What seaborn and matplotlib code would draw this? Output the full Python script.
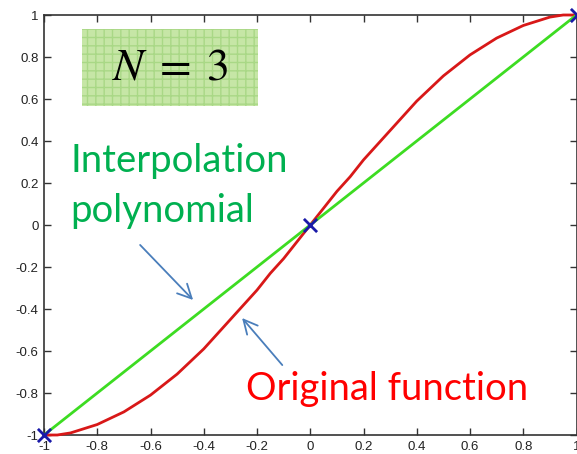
import matplotlib
matplotlib.use("Agg")
import matplotlib.pyplot as plt
import seaborn as sns
import pandas as pd
from matplotlib.patches import Rectangle

# Original function sampled on [-1, 1]
x_orig = [-1.0, -0.95, -0.9, -0.85, -0.8, -0.75, -0.7, -0.65, -0.6, -0.55, -0.5,
          -0.45, -0.4, -0.35, -0.3, -0.25, -0.2, -0.15, -0.1, -0.05, 0.0,
          0.05, 0.1, 0.15, 0.2, 0.25, 0.3, 0.35, 0.4, 0.45, 0.5,
          0.55, 0.6, 0.65, 0.7, 0.75, 0.8, 0.85, 0.9, 0.95, 1.0]
y_orig = [-1.00, -1.00, -0.99, -0.97, -0.95, -0.92, -0.89, -0.85, -0.81, -0.76, -0.71,
          -0.65, -0.59, -0.52, -0.45, -0.38, -0.31, -0.23, -0.16, -0.08, 0.00,
          0.08, 0.16, 0.23, 0.31, 0.38, 0.45, 0.52, 0.59, 0.65, 0.71,
          0.76, 0.81, 0.85, 0.89, 0.92, 0.95, 0.97, 0.99, 1.00, 1.00]

# Interpolation nodes (N = 3) and the resulting polynomial
x_nodes = [-1.0, 0.0, 1.0]
y_nodes = [-1.0, 0.0, 1.0]

x_ticks = [-1, -0.8, -0.6, -0.4, -0.2, 0, 0.2, 0.4, 0.6, 0.8, 1]
tick_labels = ["-1", "-0.8", "-0.6", "-0.4", "-0.2", "0", "0.2", "0.4", "0.6", "0.8", "1"]
y_ticks = x_ticks

df_orig = pd.DataFrame({"x": x_orig, "y": y_orig})
df_nodes = pd.DataFrame({"x": x_nodes, "y": y_nodes})

sns.set_style("white")
plt.rcParams["font.family"] = ["Liberation Sans", "DejaVu Sans"]
plt.rcParams["mathtext.fontset"] = "stix"

W, H = 577, 454
fig = plt.figure(figsize=(W / 100, H / 100), dpi=100)
ax = fig.add_axes([44 / W, 19 / H, 532.5 / W, 420 / H])

sns.lineplot(data=df_orig, x="x", y="y", ax=ax, color="#d81818", lw=2.0,
             sort=False, clip_on=False, zorder=3)
sns.lineplot(data=df_nodes, x="x", y="y", ax=ax, color="#3ddc22", lw=2.0,
             sort=False, clip_on=False, zorder=4)
sns.scatterplot(data=df_nodes, x="x", y="y", ax=ax, marker="x", s=90,
                color="#1a1aa8", linewidth=2.0, clip_on=False, zorder=5)

ax.set_xlim(-1, 1)
ax.set_ylim(-1, 1)
ax.set_xticks(x_ticks)
ax.set_xticklabels(tick_labels)
ax.set_yticks(y_ticks)
ax.set_yticklabels(tick_labels)
ax.set_xlabel("")
ax.set_ylabel("")
ax.tick_params(direction="in", length=5, width=1, colors="#333333",
               labelcolor="#222222", labelsize=9.5, pad=4,
               top=True, right=True, bottom=True, left=True)
for sp in ax.spines.values():
    sp.set_visible(True)
    sp.set_color("#333333")
    sp.set_linewidth(1.2)

# Label box with a light green grid texture
box_kw = dict(xy=(-0.857, 0.567), width=0.662, height=0.366)
ax.add_patch(Rectangle(**box_kw, facecolor="#c6e6a6", edgecolor="none", zorder=2))
ax.add_patch(Rectangle(**box_kw, fill=False, hatch="++", edgecolor="#a9d886",
                       linewidth=0, zorder=2))
ax.text(-0.526, 0.752, r"$N\;=\;3$", fontsize=33, ha="center", va="center",
        color="black", zorder=6)

label_font = ["Lato", "DejaVu Sans"]
ax.text(-0.902, 0.252, "Interpolation", fontsize=27.5, color="#00b050",
        family=label_font, ha="left", va="baseline", zorder=6)
ax.text(-0.902, 0.014, "polynomial", fontsize=27.5, color="#00b050",
        family=label_font, ha="left", va="baseline", zorder=6)
ax.text(-0.241, -0.833, "Original function", fontsize=27.5, color="#ff0000",
        family=label_font, ha="left", va="baseline", zorder=6)

arrow_style = dict(arrowstyle="->,head_length=1.0,head_width=0.5",
                   color="#4a7ebb", lw=1.3, shrinkA=0, shrinkB=0)
ax.annotate("", xy=(-0.440, -0.357), xytext=(-0.639, -0.095),
            arrowprops=arrow_style, annotation_clip=False, zorder=6)
ax.annotate("", xy=(-0.256, -0.443), xytext=(-0.105, -0.667),
            arrowprops=arrow_style, annotation_clip=False, zorder=6)

fig.savefig("out.png", dpi=100)
